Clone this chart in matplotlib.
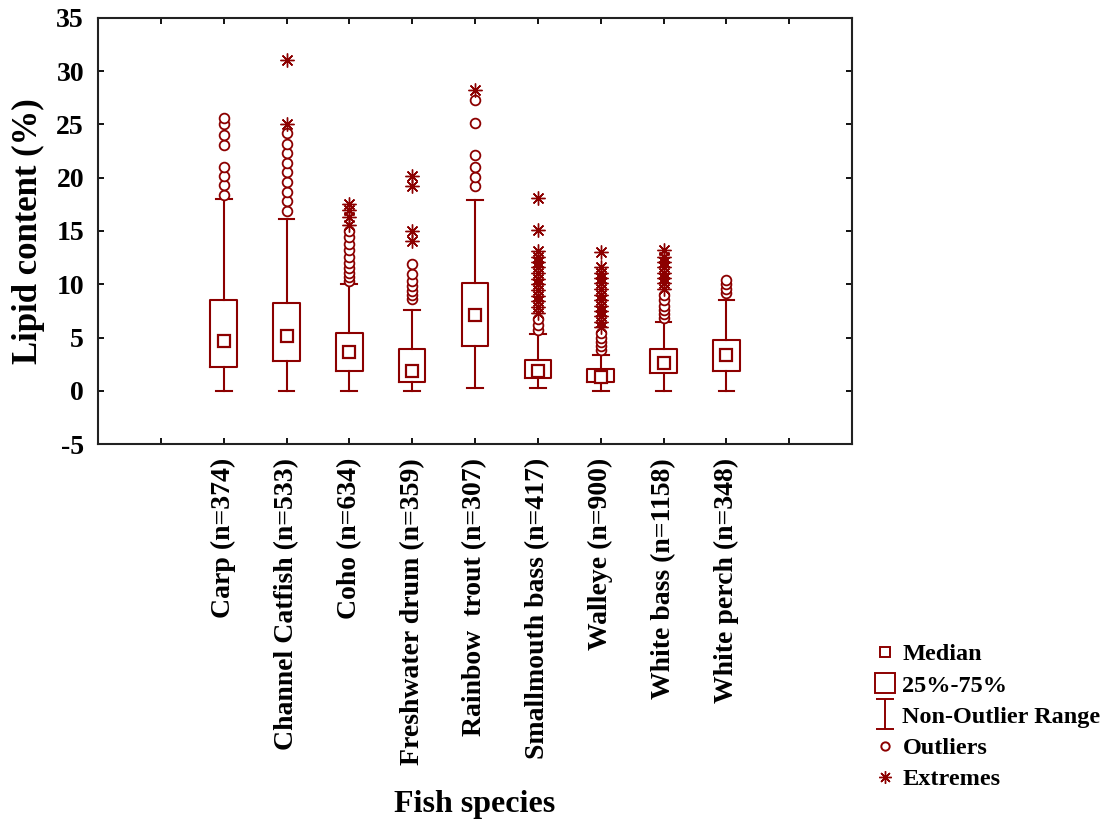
import matplotlib
matplotlib.use("Agg")
import matplotlib.pyplot as plt
from matplotlib.lines import Line2D
from matplotlib.path import Path

plt.rcParams['font.family'] = ['Liberation Serif', 'DejaVu Serif']
plt.rcParams['font.weight'] = 'bold'
plt.rcParams['axes.labelweight'] = 'bold'
plt.rcParams['axes.unicode_minus'] = False

# Lipid content (%) summary per species
species = ['Carp (n=374)', 'Channel Catfish (n=533)', 'Coho (n=634)',
           'Freshwater drum (n=359)', 'Rainbow  trout (n=307)',
           'Smallmouth bass (n=417)', 'Walleye (n=900)',
           'White bass (n=1158)', 'White perch (n=348)']
medians = [4.7, 5.1, 3.6, 1.9, 7.1, 1.9, 1.3, 2.6, 3.4]
q1 = [2.2, 2.8, 1.9, 0.8, 4.2, 1.2, 0.85, 1.7, 1.9]
q3 = [8.5, 8.2, 5.4, 3.9, 10.1, 2.9, 2.0, 3.9, 4.8]
whisker_lo = [0.0, 0.0, 0.0, 0.0, 0.3, 0.3, 0.0, 0.0, 0.0]
whisker_hi = [18.0, 16.1, 10.0, 7.6, 17.9, 5.3, 3.4, 6.5, 8.5]
outliers = [
    [18.4, 19.3, 20.2, 21.0, 23.1, 24.0, 25.0, 25.6],
    [16.9, 17.8, 18.7, 19.6, 20.5, 21.4, 22.3, 23.2, 24.2],
    [10.3, 10.7, 11.1, 11.5, 12.0, 12.6, 13.2, 13.8, 14.4, 15.0],
    [8.6, 9.0, 9.4, 9.8, 10.3, 11.0, 11.9],
    [19.2, 20.1, 21.0, 22.1, 25.1, 27.3],
    [5.7, 6.2, 6.7],
    [3.8, 4.2, 4.6, 5.0, 5.4],
    [6.8, 7.2, 7.6, 8.0, 8.5, 9.0],
    [9.2, 9.6, 10.0, 10.4],
]
extremes = [
    [],
    [25.0, 31.1],
    [15.6, 16.3, 17.0, 17.5],
    [14.1, 15.0, 19.2, 20.2],
    [28.2],
    [7.3, 7.9, 8.4, 8.9, 9.5, 10.0, 10.5, 11.1, 11.6, 12.1, 12.6, 13.1, 15.1, 18.1],
    [6.0, 6.5, 7.0, 7.5, 8.0, 8.5, 9.0, 9.6, 10.1, 10.6, 11.1, 11.6, 13.0],
    [9.6, 10.1, 10.6, 11.1, 11.6, 12.1, 12.6, 13.2],
    [],
]

red = '#8c0000'
positions = list(range(1, len(species) + 1))

fig = plt.figure(figsize=(11.1, 8.25), dpi=100)
ax = fig.add_axes([0.0883, 0.4618, 0.6793, 0.5164])

stats = []
for i in range(len(species)):
    stats.append({'med': medians[i], 'q1': q1[i], 'q3': q3[i],
                  'whislo': whisker_lo[i], 'whishi': whisker_hi[i],
                  'fliers': outliers[i]})

ax.bxp(stats, positions=positions, widths=0.42, capwidths=0.25,
       boxprops=dict(color=red, linewidth=1.5),
       whiskerprops=dict(color=red, linewidth=1.5),
       capprops=dict(color=red, linewidth=1.5),
       medianprops=dict(linewidth=0),
       flierprops=dict(marker='o', markersize=7, markerfacecolor='white',
                       markeredgecolor=red, markeredgewidth=1.3))

ax.plot(positions, medians, 's', markersize=8, markerfacecolor='white',
        markeredgecolor=red, markeredgewidth=1.6, linestyle='none')

for pos, ext in zip(positions, extremes):
    if ext:
        ax.plot([pos] * len(ext), ext, linestyle='none', marker=(8, 2, 0),
                markersize=10, markeredgecolor=red, markeredgewidth=1.0)

ax.set_xlim(-1, 11)
ax.set_ylim(-5, 35)
ax.set_yticks(range(-5, 36, 5))
ax.set_xticks(range(0, 11))
ax.set_xticklabels([''] + species + [''], rotation=90, fontsize=20)
ax.tick_params(axis='both', direction='in', length=4, width=1.3,
               top=True, right=True)
ax.tick_params(axis='x', pad=10)
ax.tick_params(axis='y', pad=10, labelsize=20)
for sp in ax.spines.values():
    sp.set_linewidth(1.5)
    sp.set_color('#222222')

ax.set_ylabel('Lipid content (%)', fontsize=25, labelpad=8)
ax.set_xlabel('Fish species', fontsize=23, labelpad=18)

# whisker legend symbol: vertical line with caps
whisk_path = Path([(0, -1), (0, 1), (-0.6, 1), (0.6, 1), (-0.6, -1), (0.6, -1)],
                  [Path.MOVETO, Path.LINETO, Path.MOVETO, Path.LINETO,
                   Path.MOVETO, Path.LINETO])
handles = [
    Line2D([], [], linestyle='none', marker='s', markersize=7,
           markerfacecolor='white', markeredgecolor=red, markeredgewidth=1.4),
    Line2D([], [], linestyle='none', marker='s', markersize=15,
           markerfacecolor='white', markeredgecolor=red, markeredgewidth=1.4),
    Line2D([], [], linestyle='none', marker=whisk_path, markersize=21,
           markeredgecolor=red, markeredgewidth=1.4),
    Line2D([], [], linestyle='none', marker='o', markersize=6,
           markerfacecolor='white', markeredgecolor=red, markeredgewidth=1.4),
    Line2D([], [], linestyle='none', marker=(8, 2, 0), markersize=9,
           markeredgecolor=red, markeredgewidth=1.0),
]
labels = ['Median', '25%-75%', 'Non-Outlier Range', 'Outliers', 'Extremes']
fig.legend(handles, labels, loc='upper left', bbox_to_anchor=(0.778, 0.232),
           frameon=False, fontsize=17.5, handlelength=1.0, handletextpad=0.2,
           labelspacing=0.38, borderaxespad=0)

plt.savefig('out.png', dpi=100)
